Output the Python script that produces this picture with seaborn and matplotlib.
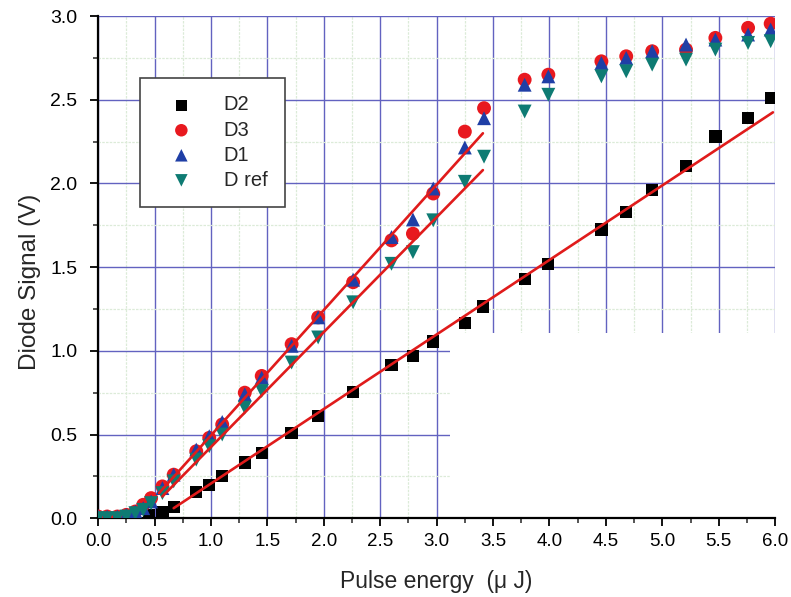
import numpy as np
import pandas as pd
import matplotlib
matplotlib.use("Agg")
import matplotlib.pyplot as plt
from matplotlib.patches import Rectangle
import seaborn as sns

# ---------------- data ----------------
x_d2 = [0.45, 0.57, 0.67, 0.87, 0.985, 1.10, 1.30, 1.45, 1.715, 1.946, 2.26, 2.60, 2.79,
        2.97, 3.25, 3.41, 3.78, 3.99, 4.46, 4.68, 4.91, 5.21, 5.47, 5.76, 5.96]
y_d2 = [0.02, 0.035, 0.065, 0.157, 0.20, 0.25, 0.333, 0.39, 0.51, 0.61, 0.753, 0.915, 0.97,
        1.055, 1.165, 1.265, 1.43, 1.52, 1.725, 1.83, 1.96, 2.105, 2.28, 2.39, 2.51]

x_d = [0.0, 0.08, 0.17, 0.25, 0.33, 0.40, 0.47, 0.57, 0.67, 0.87, 0.985, 1.10, 1.30, 1.45,
       1.715, 1.95, 2.26, 2.60, 2.79, 2.97, 3.25, 3.42, 3.78, 3.99, 4.46, 4.68, 4.91, 5.21,
       5.47, 5.76, 5.96]
y_d3 = [0.01, 0.01, 0.01, 0.02, 0.04, 0.08, 0.12, 0.19, 0.26, 0.40, 0.48, 0.56, 0.75, 0.85,
        1.04, 1.20, 1.41, 1.66, 1.70, 1.94, 2.31, 2.45, 2.62, 2.65, 2.73, 2.76, 2.79, 2.80,
        2.87, 2.93, 2.955]
y_d1 = [0.01, 0.01, 0.01, 0.02, 0.04, 0.06, 0.10, 0.18, 0.26, 0.41, 0.49, 0.575, 0.74, 0.84,
        1.03, 1.20, 1.425, 1.68, 1.785, 1.97, 2.215, 2.39, 2.59, 2.64, 2.72, 2.75, 2.79, 2.83,
        2.86, 2.89, 2.92]
y_dref = [0.0, 0.0, 0.0, 0.01, 0.03, 0.05, 0.09, 0.15, 0.22, 0.35, 0.43, 0.50, 0.66, 0.76,
          0.93, 1.08, 1.29, 1.52, 1.59, 1.78, 2.01, 2.16, 2.43, 2.53, 2.64, 2.67, 2.71, 2.74,
          2.80, 2.84, 2.85]

# linear fit segments (start, end)
fit_d2_x = [0.67, 5.98]
fit_d2_y = [0.06, 2.425]
fit_d13_x = [0.54, 3.41]
fit_d13_y = [0.15, 2.30]
fit_dref_x = [0.57, 3.41]
fit_dref_y = [0.13, 2.08]

x_ticks = [0.0, 0.5, 1.0, 1.5, 2.0, 2.5, 3.0, 3.5, 4.0, 4.5, 5.0, 5.5, 6.0]
y_ticks = [0.0, 0.5, 1.0, 1.5, 2.0, 2.5, 3.0]

# ---------------- style ----------------
sns.set_style("ticks")
plt.rcParams['font.family'] = ['Liberation Sans', 'DejaVu Sans']

fig = plt.figure(figsize=(7.91, 5.97), dpi=100)
ax = fig.add_axes([0.124, 0.132, 0.856, 0.841])

c_d2 = "#000000"
c_d3 = "#e8191f"
c_d1 = "#1f3fa6"
c_dref = "#0e7b73"
c_fit = "#e01b1b"

df2 = pd.DataFrame({"x": x_d2, "y": y_d2})
dfd = pd.DataFrame({"x": x_d, "D3": y_d3, "D1": y_d1, "Dref": y_dref})

sns.scatterplot(data=df2, x="x", y="y", ax=ax, marker="s", s=78, color=c_d2,
                edgecolor="none", label="D2", zorder=3)
sns.scatterplot(data=dfd, x="x", y="D3", ax=ax, marker="o", s=100, color=c_d3,
                edgecolor="none", label="D3", zorder=3)
sns.scatterplot(data=dfd, x="x", y="D1", ax=ax, marker="^", s=100, color=c_d1,
                edgecolor="none", label="D1", zorder=3)
sns.scatterplot(data=dfd, x="x", y="Dref", ax=ax, marker="v", s=100, color=c_dref,
                edgecolor="none", label="D ref", zorder=3)

sns.lineplot(x=fit_d2_x, y=fit_d2_y, ax=ax, color=c_fit, lw=1.9, zorder=4, legend=False)
sns.lineplot(x=fit_d13_x, y=fit_d13_y, ax=ax, color=c_fit, lw=1.9, zorder=4, legend=False)
sns.lineplot(x=fit_dref_x, y=fit_dref_y, ax=ax, color=c_fit, lw=1.9, zorder=4, legend=False)

ax.set_xlim(0, 6.0)
ax.set_ylim(0, 3.0)
ax.set_xticks(x_ticks)
ax.set_yticks(y_ticks)
ax.set_xticklabels([f"{v:.1f}" for v in x_ticks])
ax.set_yticklabels([f"{v:.1f}" for v in y_ticks])
ax.set_xticks(np.arange(0.25, 6.0, 0.5), minor=True)
ax.set_yticks(np.arange(0.25, 3.0, 0.5), minor=True)
ax.tick_params(axis="x", which="major", direction="out", length=6, width=1.3,
               labelsize=13.5, colors="black", pad=5)
ax.tick_params(axis="y", which="major", direction="out", length=6, width=1.3,
               labelsize=14, colors="black", pad=9)
ax.tick_params(axis="both", which="minor", direction="out", length=3.5, width=1.1)

ax.set_axisbelow(True)
ax.grid(True, which="major", color="#6262c0", lw=1.0)
ax.grid(True, which="minor", color="#dcebd8", lw=0.9, ls=(0, (2, 1)))

# blank patch in the lower right (grid missing in the reference)
ax.add_patch(Rectangle((3.12, 0.004), 2.9, 1.1, facecolor="white", edgecolor="none", zorder=1.5))

for s in ["top", "right"]:
    ax.spines[s].set_visible(False)
for s in ["left", "bottom"]:
    ax.spines[s].set_linewidth(1.6)
    ax.spines[s].set_color("black")

ax.set_xlabel("Pulse energy  (μ J)", fontsize=16.5, labelpad=14)
ax.set_ylabel("Diode Signal (V)", fontsize=17.5)
ax.yaxis.set_label_coords(-0.085, 0.47)

leg = ax.legend(loc="upper left", bbox_to_anchor=(0.062, 0.876), fontsize=14.5,
                frameon=True, fancybox=False, edgecolor="#444444", framealpha=1,
                borderpad=0.85, handletextpad=0.9, labelspacing=0.3, markerscale=0.9,
                handlelength=2.4, borderaxespad=0)
leg.get_frame().set_linewidth(1.2)

fig.savefig("out.png", dpi=100)
